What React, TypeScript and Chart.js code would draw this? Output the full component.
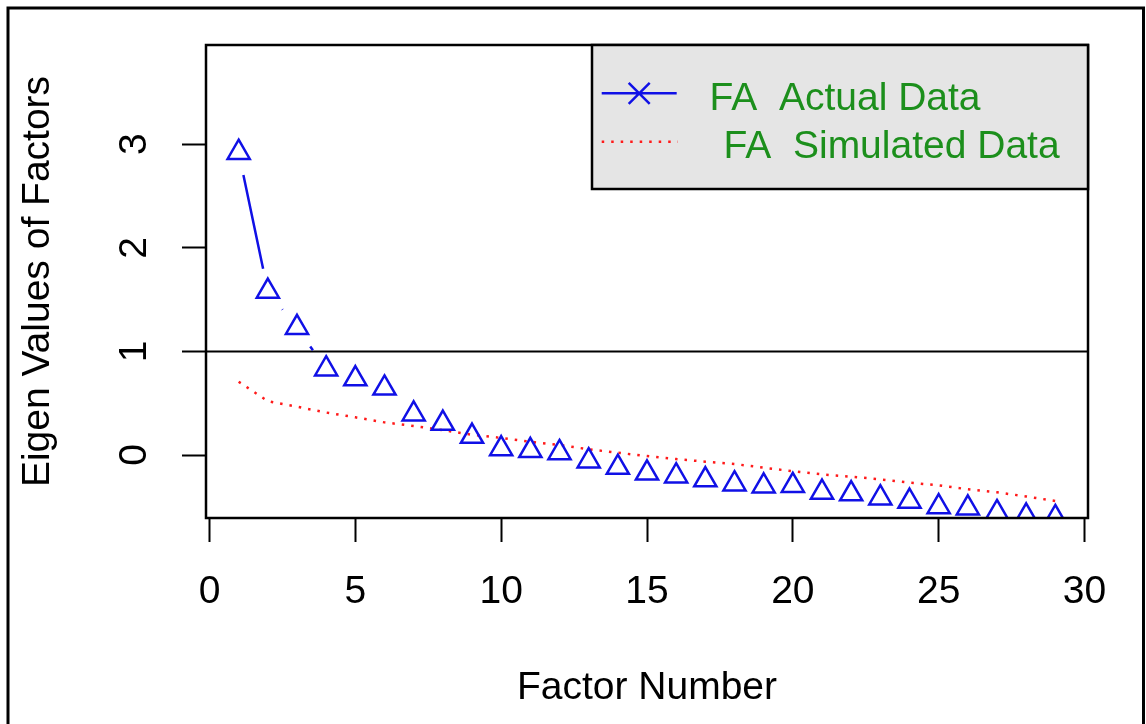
import React, { useEffect, useRef } from "react";
import { Chart, registerables } from "chart.js";

Chart.register(...registerables);

// ---- data ----
const factorNumbers = [
  1, 2, 3, 4, 5, 6, 7, 8, 9, 10, 11, 12, 13, 14, 15, 16, 17, 18, 19, 20,
  21, 22, 23, 24, 25, 26, 27, 28, 29,
];
const actualEigen = [
  2.92, 1.58, 1.23, 0.83, 0.735, 0.645, 0.395, 0.305, 0.18, 0.06, 0.042,
  0.022, -0.058, -0.12, -0.175, -0.203, -0.24, -0.28, -0.3, -0.295, -0.36,
  -0.375, -0.415, -0.447, -0.5, -0.512, -0.557, -0.59, -0.605,
];
const simulatedEigen = [
  0.707, 0.52, 0.466, 0.41, 0.364, 0.315, 0.28, 0.24, 0.195, 0.165, 0.128,
  0.097, 0.055, 0.022, -0.01, -0.039, -0.064, -0.087, -0.122, -0.157, -0.187,
  -0.209, -0.235, -0.267, -0.293, -0.331, -0.36, -0.4, -0.444,
];
const xTickValues = [0, 5, 10, 15, 20, 25, 30];
const yTickValues = [0, 1, 2, 3];
const referenceLevel = 1;
const xRange = [-0.12, 30.12];
const yRange = [-0.608, 3.958];
const legendLabels = ["FA  Actual Data", "FA  Simulated Data"];
const xTitle = "Factor Number";
const yTitle = "Eigen Values of Factors";

// ---- styles ----
const FONT_FAMILY = "'Liberation Sans', Arial, Helvetica, sans-serif";
const FONT_SIZE = 39;
const BLUE = "#1010e6";
const RED = "#ff1a1a";
const GREEN = "#1c8f1c";
const LINE_GAP = 23;

const decorPlugin = {
  id: "decor",
  afterDatasetsDraw(chart: any) {
    const ctx = chart.ctx as CanvasRenderingContext2D;
    const area = chart.chartArea;
    // blue connecting segments with gaps around points (R type "b")
    const pts = chart.getDatasetMeta(0).data;
    ctx.save();
    ctx.beginPath();
    ctx.rect(area.left, area.top, area.right - area.left, area.bottom - area.top);
    ctx.clip();
    ctx.strokeStyle = BLUE;
    ctx.lineWidth = 2.5;
    ctx.beginPath();
    for (let i = 0; i < pts.length - 1; i++) {
      const p0 = pts[i];
      const p1 = pts[i + 1];
      const dx = p1.x - p0.x;
      const dy = p1.y - p0.y;
      const L = Math.hypot(dx, dy);
      if (L > 2 * LINE_GAP) {
        const ux = dx / L;
        const uy = dy / L;
        ctx.moveTo(p0.x + ux * LINE_GAP, p0.y + uy * LINE_GAP);
        ctx.lineTo(p1.x - ux * LINE_GAP, p1.y - uy * LINE_GAP);
      }
    }
    ctx.stroke();
    ctx.restore();

    // plot box
    ctx.save();
    ctx.strokeStyle = "#000";
    ctx.lineWidth = 2.5;
    ctx.strokeRect(area.left, area.top, area.right - area.left, area.bottom - area.top);
    ctx.restore();
  },
  afterDraw(chart: any) {
    const ctx = chart.ctx as CanvasRenderingContext2D;
    const area = chart.chartArea;
    // legend
    const w = 496;
    const h = 144;
    const lx = area.right - w;
    const ly = area.top;
    ctx.save();
    ctx.fillStyle = "#e5e5e5";
    ctx.fillRect(lx, ly, w, h);
    ctx.strokeStyle = "#000";
    ctx.lineWidth = 2.5;
    ctx.strokeRect(lx, ly, w, h);

    // entry 1: blue line with x marker
    const y1 = ly + 48.3;
    ctx.strokeStyle = BLUE;
    ctx.lineWidth = 2.5;
    ctx.beginPath();
    ctx.moveTo(lx + 9.7, y1);
    ctx.lineTo(lx + 84.7, y1);
    const cx = lx + 47.2;
    const s = 10.5;
    ctx.moveTo(cx - s, y1 - s);
    ctx.lineTo(cx + s, y1 + s);
    ctx.moveTo(cx - s, y1 + s);
    ctx.lineTo(cx + s, y1 - s);
    ctx.stroke();

    // entry 2: red dotted line
    const y2 = ly + 96.7;
    ctx.strokeStyle = RED;
    ctx.lineWidth = 2.5;
    ctx.setLineDash([2.5, 7]);
    ctx.beginPath();
    ctx.moveTo(lx + 9.7, y2);
    ctx.lineTo(lx + 86, y2);
    ctx.stroke();
    ctx.setLineDash([]);

    ctx.fillStyle = GREEN;
    ctx.font = `${FONT_SIZE}px ${FONT_FAMILY}`;
    ctx.textBaseline = "alphabetic";
    ctx.textAlign = "left";
    ctx.fillText(legendLabels[0], lx + 117.6, ly + 65);
    ctx.fillText(legendLabels[1], lx + 131.6, ly + 113.3);
    ctx.restore();

    // outer frame
    ctx.save();
    ctx.strokeStyle = "#000";
    ctx.lineWidth = 3;
    ctx.strokeRect(8, 8, 1135.5, 900);
    ctx.restore();
  },
};

export default function App() {
  const ref = useRef<HTMLCanvasElement>(null);

  useEffect(() => {
    if (!ref.current) return;
    const font = { family: FONT_FAMILY, size: FONT_SIZE };
    const chart = new Chart(ref.current, {
      type: "scatter",
      data: {
        datasets: [
          {
            label: legendLabels[0],
            data: factorNumbers.map((x, i) => ({ x, y: actualEigen[i] })),
            showLine: false,
            pointStyle: "triangle",
            pointRadius: 12.8,
            pointHoverRadius: 12.8,
            pointBorderWidth: 2.5,
            pointBorderColor: BLUE,
            pointBackgroundColor: "rgba(0,0,0,0)",
            clip: 0,
          } as any,
          {
            label: legendLabels[1],
            data: factorNumbers.map((x, i) => ({ x, y: simulatedEigen[i] })),
            showLine: true,
            borderColor: RED,
            borderWidth: 2.5,
            borderDash: [2.5, 7],
            pointRadius: 0,
            pointHoverRadius: 0,
            tension: 0,
            fill: false,
            clip: 0,
          } as any,
          {
            label: "reference",
            data: [
              { x: xRange[0], y: referenceLevel },
              { x: xRange[1], y: referenceLevel },
            ],
            showLine: true,
            borderColor: "#000",
            borderWidth: 2,
            pointRadius: 0,
            pointHoverRadius: 0,
            fill: false,
            clip: 0,
          } as any,
        ],
      },
      options: {
        responsive: false,
        animation: false,
        devicePixelRatio: 1,
        events: [],
        layout: { padding: { top: 45, right: 58, left: 0, bottom: 0 } },
        plugins: {
          legend: { display: false },
          tooltip: { enabled: false },
        },
        scales: {
          x: {
            type: "linear",
            min: xRange[0],
            max: xRange[1],
            afterBuildTicks: (s: any) => {
              s.ticks = xTickValues.map((v) => ({ value: v }));
            },
            afterFit: (s: any) => {
              s.height = 206;
              s.paddingLeft = 0;
              s.paddingRight = 0;
            },
            grid: {
              display: true,
              drawOnChartArea: false,
              drawTicks: true,
              tickLength: 24,
              tickWidth: 2,
              tickColor: "#000",
            },
            border: { display: false },
            ticks: {
              color: "#000",
              font,
              padding: 27,
              maxRotation: 0,
              minRotation: 0,
              autoSkip: false,
              callback: (v: any) => String(v),
            },
            title: {
              display: true,
              text: xTitle,
              color: "#000",
              font,
              padding: { top: 0, bottom: 12.4 },
            },
          },
          y: {
            type: "linear",
            min: yRange[0],
            max: yRange[1],
            afterBuildTicks: (s: any) => {
              s.ticks = yTickValues.map((v) => ({ value: v }));
            },
            afterFit: (s: any) => {
              s.width = 206;
              s.paddingTop = 0;
              s.paddingBottom = 0;
            },
            grid: {
              display: true,
              drawOnChartArea: false,
              drawTicks: true,
              tickLength: 24,
              tickWidth: 2,
              tickColor: "#000",
            },
            border: { display: false },
            ticks: {
              color: "#000",
              font,
              padding: 36,
              minRotation: 90,
              maxRotation: 90,
              crossAlign: "center",
              autoSkip: false,
              callback: (v: any) => String(v),
            },
            title: {
              display: true,
              text: yTitle,
              color: "#000",
              font,
              padding: { top: 15, bottom: 0 },
            },
          },
        },
      } as any,
      plugins: [decorPlugin],
    });
    return () => chart.destroy();
  }, []);

  return (
    <div
      style={{
        position: "absolute",
        left: 0,
        top: 0,
        width: 1146,
        height: 724,
        background: "#fff",
      }}
    >
      <canvas
        ref={ref}
        width={1146}
        height={724}
        style={{ display: "block", width: 1146, height: 724 }}
      />
    </div>
  );
}
